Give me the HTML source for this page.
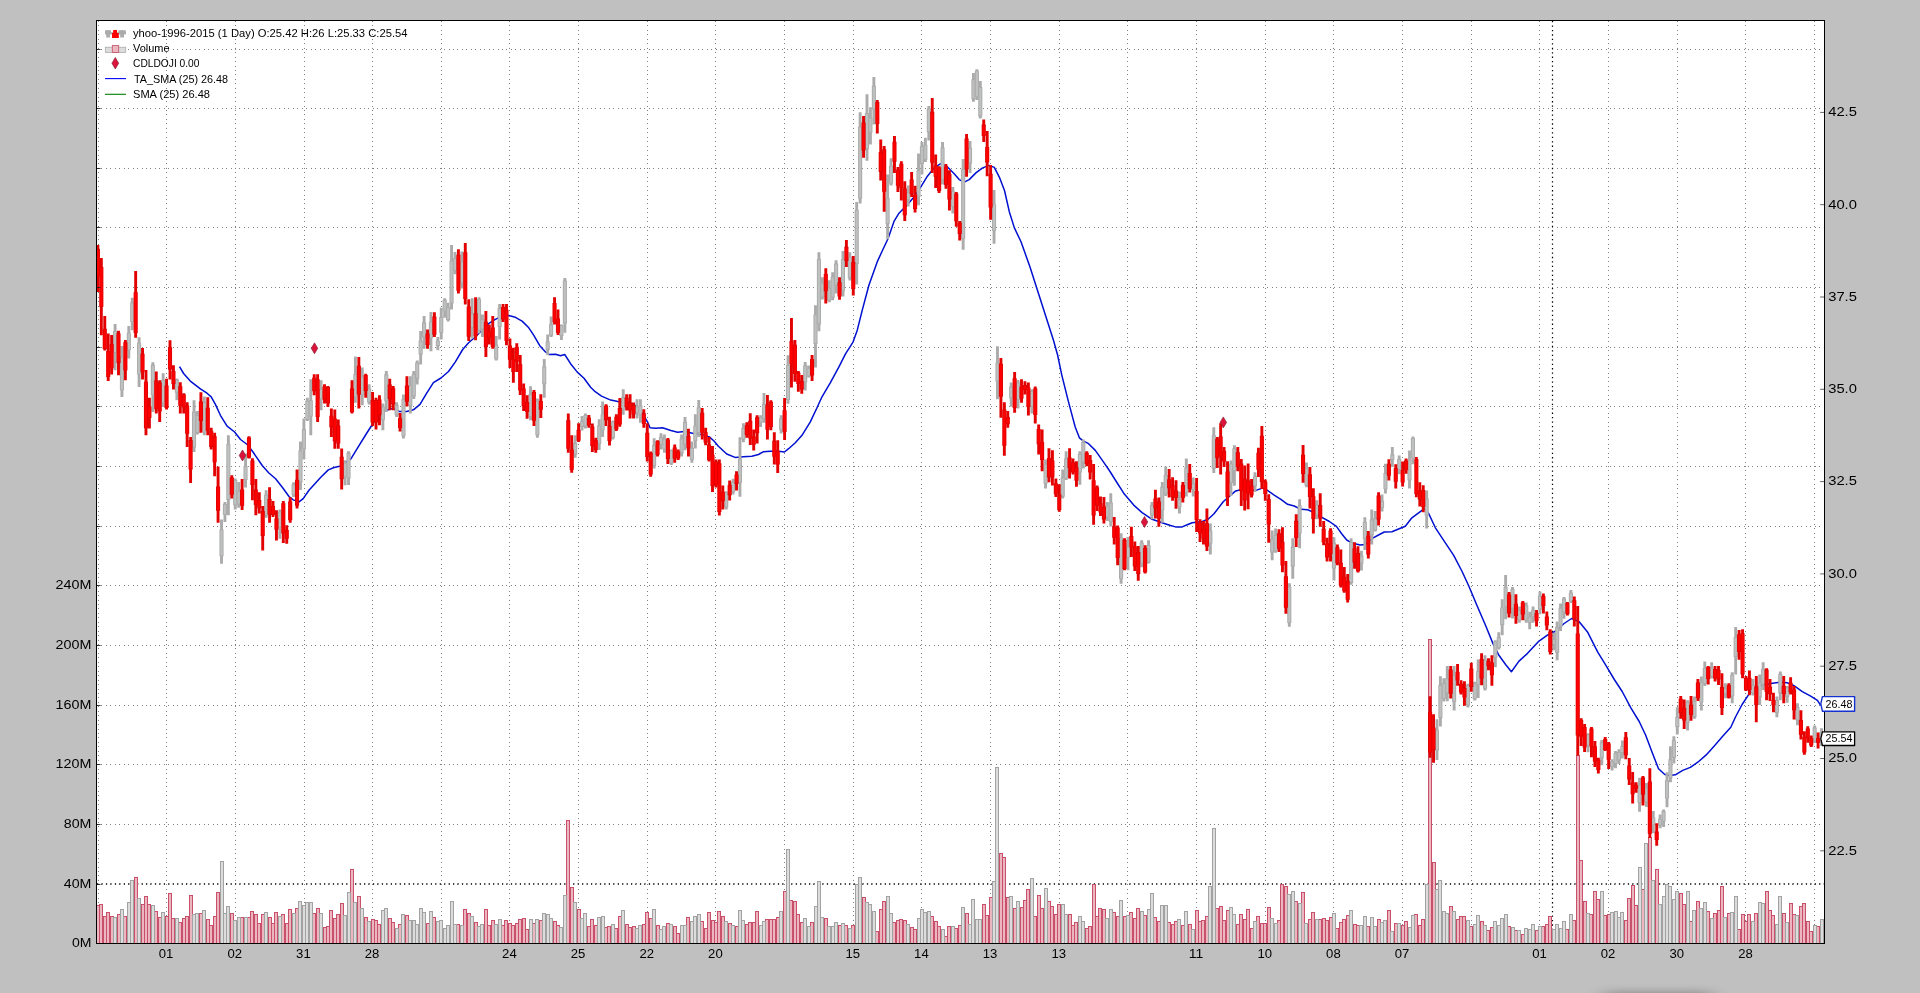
<!DOCTYPE html><html><head><meta charset="utf-8"><title>chart</title><style>
html,body{margin:0;padding:0;background:#c0c0c0;overflow:hidden}
svg{display:block;font-family:"Liberation Sans",sans-serif}
</style></head><body>
<svg width="1920" height="993" viewBox="0 0 1920 993">
<rect x="0" y="0" width="1920" height="993" fill="#c0c0c0"/>
<defs><radialGradient id="sh" cx="0.5" cy="1" r="1" gradientTransform="translate(0,0)"><stop offset="0" stop-color="#9c9c9c"/><stop offset="1" stop-color="#c0c0c0"/></radialGradient>
<filter id="bl" x="-50%" y="-300%" width="200%" height="700%"><feGaussianBlur stdDeviation="10 4.5"/></filter>
<clipPath id="cp"><rect x="97" y="21" width="1727" height="922"/></clipPath></defs>
<rect x="1604" y="992" width="108" height="12" fill="#000" opacity="0.27" filter="url(#bl)"/>
<rect x="97" y="21" width="1727" height="922" fill="#fff"/>
<path d="M98.5 21V943 M166.5 21V943 M235.5 21V943 M304.5 21V943 M372.5 21V943 M441.5 21V943 M509.5 21V943 M578.5 21V943 M647.5 21V943 M715.5 21V943 M784.5 21V943 M853.5 21V943 M921.5 21V943 M990.5 21V943 M1059.5 21V943 M1127.5 21V943 M1196.5 21V943 M1265.5 21V943 M1333.5 21V943 M1402.5 21V943 M1471.5 21V943 M1539.5 21V943 M1608.5 21V943 M1677.5 21V943 M1745.5 21V943 M1814.5 21V943 M97 884.5H1822 M97 824.5H1822 M97 764.5H1822 M97 705.5H1822 M97 645.5H1822 M97 585.5H1822 M97 526.5H1822 M97 466.5H1822 M97 406.5H1822 M97 347.5H1822 M97 287.5H1822 M97 227.5H1822 M97 168.5H1822 M97 108.5H1822 M97 49.5H1822" stroke="#808080" stroke-width="1" stroke-dasharray="1 3.45" fill="none" shape-rendering="crispEdges"/>
<path d="M1552.5 21V943M97 883.8H1824" stroke="#000" stroke-width="1.25" stroke-dasharray="1.3 3.15" fill="none"/>
<g clip-path="url(#cp)">
<path d="M96.40 943.5V905.0H99.40V943.5M99.83 943.5V904.2H102.83V943.5M103.27 943.5V916.3H106.27V943.5M106.70 943.5V912.2H109.70V943.5M110.13 943.5V916.3H113.13V943.5M117.00 943.5V914.2H120.00V943.5M123.87 943.5V916.2H126.87V943.5M134.17 943.5V877.2H137.17V943.5M141.04 943.5V904.2H144.04V943.5M144.47 943.5V896.2H147.47V943.5M147.90 943.5V904.2H150.90V943.5M154.77 943.5V911.2H157.77V943.5M158.20 943.5V917.2H161.20V943.5M165.07 943.5V916.2H168.07V943.5M168.50 943.5V893.2H171.50V943.5M171.94 943.5V918.2H174.94V943.5M178.80 943.5V922.2H181.80V943.5M182.24 943.5V918.3H185.24V943.5M185.67 943.5V916.3H188.67V943.5M189.10 943.5V895.2H192.10V943.5M199.41 943.5V913.2H202.41V943.5M206.27 943.5V919.3H209.27V943.5M209.71 943.5V925.3H212.71V943.5M213.14 943.5V916.2H216.14V943.5M216.57 943.5V892.2H219.57V943.5M230.31 943.5V913.2H233.31V943.5M240.61 943.5V917.2H243.61V943.5M247.47 943.5V917.2H250.47V943.5M250.91 943.5V911.2H253.91V943.5M254.34 943.5V914.2H257.34V943.5M257.77 943.5V923.3H260.77V943.5M261.21 943.5V914.2H264.21V943.5M268.08 943.5V917.2H271.08V943.5M271.51 943.5V923.3H274.51V943.5M274.94 943.5V912.2H277.94V943.5M281.81 943.5V914.2H284.81V943.5M285.24 943.5V923.3H288.24V943.5M288.68 943.5V909.2H291.68V943.5M295.54 943.5V908.2H298.54V943.5M312.71 943.5V913.2H315.71V943.5M316.14 943.5V908.2H319.14V943.5M323.01 943.5V927.3H326.01V943.5M326.44 943.5V926.3H329.44V943.5M329.88 943.5V910.2H332.88V943.5M333.31 943.5V918.3H336.31V943.5M336.75 943.5V914.2H339.75V943.5M340.18 943.5V903.2H343.18V943.5M350.48 943.5V869.2H353.48V943.5M357.35 943.5V896.2H360.35V943.5M364.21 943.5V917.2H367.21V943.5M371.08 943.5V919.3H374.08V943.5M374.51 943.5V920.3H377.51V943.5M377.95 943.5V924.3H380.95V943.5M388.25 943.5V918.3H391.25V943.5M391.68 943.5V922.2H394.68V943.5M398.55 943.5V924.3H401.55V943.5M405.41 943.5V915.2H408.41V943.5M426.02 943.5V923.3H429.02V943.5M432.88 943.5V917.2H435.88V943.5M456.92 943.5V924.3H459.92V943.5M463.78 943.5V909.2H466.78V943.5M467.22 943.5V913.2H470.22V943.5M474.09 943.5V922.2H477.09V943.5M484.39 943.5V909.2H487.39V943.5M487.82 943.5V925.3H490.82V943.5M491.25 943.5V920.3H494.25V943.5M501.55 943.5V925.3H504.55V943.5M504.99 943.5V920.3H507.99V943.5M508.42 943.5V923.3H511.42V943.5M511.85 943.5V925.3H514.85V943.5M515.29 943.5V923.3H518.29V943.5M518.72 943.5V919.3H521.72V943.5M522.15 943.5V918.3H525.15V943.5M525.59 943.5V929.3H528.59V943.5M532.45 943.5V923.3H535.45V943.5M539.32 943.5V920.3H542.32V943.5M553.06 943.5V921.3H556.06V943.5M556.49 943.5V925.3H559.49V943.5M566.79 943.5V820.2H569.79V943.5M570.22 943.5V887.2H573.22V943.5M577.09 943.5V909.2H580.09V943.5M587.39 943.5V926.3H590.39V943.5M590.82 943.5V919.3H593.82V943.5M594.26 943.5V925.3H597.26V943.5M604.56 943.5V927.3H607.56V943.5M607.99 943.5V926.3H610.99V943.5M614.86 943.5V928.3H617.86V943.5M618.29 943.5V916.2H621.29V943.5M625.16 943.5V924.3H628.16V943.5M628.59 943.5V927.3H631.59V943.5M632.03 943.5V926.3H635.03V943.5M642.33 943.5V924.3H645.33V943.5M645.76 943.5V912.2H648.76V943.5M649.19 943.5V918.3H652.19V943.5M656.06 943.5V925.3H659.06V943.5M666.36 943.5V923.3H669.36V943.5M673.23 943.5V926.3H676.23V943.5M676.66 943.5V933.3H679.66V943.5M686.96 943.5V917.2H689.96V943.5M700.70 943.5V921.3H703.70V943.5M704.13 943.5V928.3H707.13V943.5M707.56 943.5V912.2H710.56V943.5M711.00 943.5V920.3H714.00V943.5M714.43 943.5V922.2H717.43V943.5M717.86 943.5V911.2H720.86V943.5M721.30 943.5V916.2H724.30V943.5M728.16 943.5V923.3H731.16V943.5M735.03 943.5V926.3H738.03V943.5M745.33 943.5V924.3H748.33V943.5M748.76 943.5V922.2H751.76V943.5M752.20 943.5V922.2H755.20V943.5M755.63 943.5V911.2H758.63V943.5M765.93 943.5V919.3H768.93V943.5M769.37 943.5V919.3H772.37V943.5M772.80 943.5V919.3H775.80V943.5M776.23 943.5V917.2H779.23V943.5M783.10 943.5V891.2H786.10V943.5M789.97 943.5V900.2H792.97V943.5M793.40 943.5V901.2H796.40V943.5M796.83 943.5V914.2H799.83V943.5M800.27 943.5V922.2H803.27V943.5M810.57 943.5V922.2H813.57V943.5M824.30 943.5V918.3H827.30V943.5M838.04 943.5V925.3H841.04V943.5M844.90 943.5V925.3H847.90V943.5M851.77 943.5V925.3H854.77V943.5M862.07 943.5V897.2H865.07V943.5M875.80 943.5V931.3H878.80V943.5M879.24 943.5V909.2H882.24V943.5M882.67 943.5V901.2H885.67V943.5M892.97 943.5V922.2H895.97V943.5M896.41 943.5V920.3H899.41V943.5M899.84 943.5V919.3H902.84V943.5M903.27 943.5V920.3H906.27V943.5M910.14 943.5V927.3H913.14V943.5M913.57 943.5V929.3H916.57V943.5M930.74 943.5V916.2H933.74V943.5M934.17 943.5V921.3H937.17V943.5M937.61 943.5V926.3H940.61V943.5M944.47 943.5V936.3H947.47V943.5M947.91 943.5V926.3H950.91V943.5M954.77 943.5V928.3H957.77V943.5M958.21 943.5V925.3H961.21V943.5M965.08 943.5V913.2H968.08V943.5M982.24 943.5V904.2H985.24V943.5M985.68 943.5V915.2H988.68V943.5M989.11 943.5V897.2H992.11V943.5M999.41 943.5V853.2H1002.41V943.5M1002.84 943.5V857.2H1005.84V943.5M1006.28 943.5V897.2H1009.28V943.5M1013.14 943.5V908.2H1016.14V943.5M1020.01 943.5V907.2H1023.01V943.5M1023.44 943.5V900.2H1026.44V943.5M1026.88 943.5V889.2H1029.88V943.5M1033.75 943.5V916.2H1036.75V943.5M1037.18 943.5V895.2H1040.18V943.5M1040.61 943.5V908.2H1043.61V943.5M1047.48 943.5V901.2H1050.48V943.5M1050.91 943.5V906.2H1053.91V943.5M1054.35 943.5V914.2H1057.35V943.5M1057.78 943.5V904.2H1060.78V943.5M1068.08 943.5V914.2H1071.08V943.5M1071.51 943.5V925.3H1074.51V943.5M1074.95 943.5V922.2H1077.95V943.5M1085.25 943.5V928.3H1088.25V943.5M1088.68 943.5V926.3H1091.68V943.5M1092.12 943.5V884.2H1095.12V943.5M1095.55 943.5V916.2H1098.55V943.5M1098.98 943.5V908.2H1101.98V943.5M1102.42 943.5V909.2H1105.42V943.5M1112.72 943.5V912.2H1115.72V943.5M1116.15 943.5V916.2H1119.15V943.5M1123.02 943.5V916.2H1126.02V943.5M1129.88 943.5V912.2H1132.88V943.5M1133.32 943.5V918.3H1136.32V943.5M1136.75 943.5V908.2H1139.75V943.5M1143.62 943.5V915.2H1146.62V943.5M1153.92 943.5V917.2H1156.92V943.5M1157.35 943.5V921.3H1160.35V943.5M1167.65 943.5V922.2H1170.65V943.5M1171.09 943.5V924.3H1174.09V943.5M1174.52 943.5V921.3H1177.52V943.5M1181.39 943.5V925.3H1184.39V943.5M1188.25 943.5V924.3H1191.25V943.5M1195.12 943.5V910.2H1198.12V943.5M1198.55 943.5V921.3H1201.55V943.5M1201.99 943.5V920.3H1204.99V943.5M1205.42 943.5V916.2H1208.42V943.5M1215.72 943.5V908.2H1218.72V943.5M1219.15 943.5V906.2H1222.15V943.5M1222.59 943.5V920.3H1225.59V943.5M1226.02 943.5V910.2H1229.02V943.5M1236.32 943.5V924.3H1239.32V943.5M1239.76 943.5V914.2H1242.76V943.5M1243.19 943.5V919.3H1246.19V943.5M1246.62 943.5V909.2H1249.62V943.5M1250.06 943.5V928.3H1253.06V943.5M1256.92 943.5V916.2H1259.92V943.5M1260.36 943.5V923.3H1263.36V943.5M1263.79 943.5V923.3H1266.79V943.5M1267.22 943.5V907.2H1270.22V943.5M1277.52 943.5V920.3H1280.52V943.5M1280.96 943.5V884.2H1283.96V943.5M1284.39 943.5V886.2H1287.39V943.5M1294.69 943.5V901.2H1297.69V943.5M1301.56 943.5V892.2H1304.56V943.5M1308.43 943.5V919.3H1311.43V943.5M1311.86 943.5V912.2H1314.86V943.5M1318.73 943.5V919.3H1321.73V943.5M1322.16 943.5V918.3H1325.16V943.5M1325.59 943.5V920.3H1328.59V943.5M1329.03 943.5V917.2H1332.03V943.5M1335.89 943.5V928.3H1338.89V943.5M1339.33 943.5V922.2H1342.33V943.5M1342.76 943.5V919.3H1345.76V943.5M1346.19 943.5V915.2H1349.19V943.5M1353.06 943.5V924.3H1356.06V943.5M1356.49 943.5V925.3H1359.49V943.5M1366.80 943.5V926.3H1369.80V943.5M1377.10 943.5V919.3H1380.10V943.5M1387.40 943.5V910.2H1390.40V943.5M1394.26 943.5V923.3H1397.26V943.5M1401.13 943.5V925.3H1404.13V943.5M1404.56 943.5V921.3H1407.56V943.5M1414.86 943.5V914.2H1417.86V943.5M1418.30 943.5V925.3H1421.30V943.5M1421.73 943.5V919.3H1424.73V943.5M1428.60 943.5V639.4H1431.60V943.5M1432.03 943.5V862.2H1435.03V943.5M1449.20 943.5V906.2H1452.20V943.5M1456.07 943.5V919.3H1459.07V943.5M1459.50 943.5V916.2H1462.50V943.5M1462.93 943.5V916.2H1465.93V943.5M1469.80 943.5V926.3H1472.80V943.5M1480.10 943.5V921.3H1483.10V943.5M1486.97 943.5V930.3H1489.97V943.5M1490.40 943.5V927.3H1493.40V943.5M1507.57 943.5V926.3H1510.57V943.5M1514.44 943.5V930.3H1517.44V943.5M1521.30 943.5V934.3H1524.30V943.5M1535.04 943.5V930.3H1538.04V943.5M1541.90 943.5V926.3H1544.90V943.5M1545.34 943.5V924.3H1548.34V943.5M1548.77 943.5V916.2H1551.77V943.5M1565.94 943.5V929.3H1568.94V943.5M1572.81 943.5V920.3H1575.81V943.5M1576.24 943.5V755.6H1579.24V943.5M1579.67 943.5V860.2H1582.67V943.5M1583.11 943.5V901.2H1586.11V943.5M1589.97 943.5V914.2H1592.97V943.5M1593.41 943.5V891.2H1596.41V943.5M1596.84 943.5V899.2H1599.84V943.5M1603.71 943.5V915.2H1606.71V943.5M1607.14 943.5V914.2H1610.14V943.5M1624.31 943.5V920.3H1627.31V943.5M1627.74 943.5V898.2H1630.74V943.5M1631.17 943.5V885.2H1634.17V943.5M1634.61 943.5V905.2H1637.61V943.5M1641.48 943.5V889.2H1644.48V943.5M1648.34 943.5V837.9H1651.34V943.5M1655.21 943.5V869.2H1658.21V943.5M1679.24 943.5V893.2H1682.24V943.5M1682.68 943.5V904.2H1685.68V943.5M1689.54 943.5V921.3H1692.54V943.5M1696.41 943.5V901.2H1699.41V943.5M1706.71 943.5V911.2H1709.71V943.5M1713.58 943.5V913.2H1716.58V943.5M1717.01 943.5V910.2H1720.01V943.5M1720.45 943.5V886.2H1723.45V943.5M1727.31 943.5V913.2H1730.31V943.5M1737.61 943.5V929.3H1740.61V943.5M1741.05 943.5V914.2H1744.05V943.5M1744.48 943.5V921.3H1747.48V943.5M1747.91 943.5V914.2H1750.91V943.5M1754.78 943.5V913.2H1757.78V943.5M1765.08 943.5V891.2H1768.08V943.5M1768.51 943.5V910.2H1771.51V943.5M1771.95 943.5V915.2H1774.95V943.5M1782.25 943.5V913.2H1785.25V943.5M1789.12 943.5V903.2H1792.12V943.5M1792.55 943.5V914.2H1795.55V943.5M1799.42 943.5V906.2H1802.42V943.5M1802.85 943.5V903.2H1805.85V943.5M1806.28 943.5V921.3H1809.28V943.5M1809.72 943.5V931.3H1812.72V943.5M1816.58 943.5V926.3H1819.58V943.5" fill="#ecb6c1" stroke="#c8506a" stroke-width="1" shape-rendering="crispEdges"/>
<path d="M113.57 943.5V917.2H116.57V943.5M120.43 943.5V909.2H123.43V943.5M127.30 943.5V902.2H130.30V943.5M130.74 943.5V880.0H133.74V943.5M137.60 943.5V898.3H140.60V943.5M151.34 943.5V905.3H154.34V943.5M161.64 943.5V912.2H164.64V943.5M175.37 943.5V918.2H178.37V943.5M192.54 943.5V914.2H195.54V943.5M195.97 943.5V913.3H198.97V943.5M202.84 943.5V910.2H205.84V943.5M220.01 943.5V861.2H223.01V943.5M223.44 943.5V913.3H226.44V943.5M226.87 943.5V906.2H229.87V943.5M233.74 943.5V920.2H236.74V943.5M237.17 943.5V917.2H240.17V943.5M244.04 943.5V917.2H247.04V943.5M264.64 943.5V912.2H267.64V943.5M278.38 943.5V916.2H281.38V943.5M292.11 943.5V913.2H295.11V943.5M298.98 943.5V901.2H301.98V943.5M302.41 943.5V905.0H305.41V943.5M305.84 943.5V902.2H308.84V943.5M309.28 943.5V902.2H312.28V943.5M319.58 943.5V913.2H322.58V943.5M343.61 943.5V915.2H346.61V943.5M347.05 943.5V892.2H350.05V943.5M353.91 943.5V902.2H356.91V943.5M360.78 943.5V908.2H363.78V943.5M367.65 943.5V921.3H370.65V943.5M381.38 943.5V910.2H384.38V943.5M384.81 943.5V908.2H387.81V943.5M395.11 943.5V928.3H398.11V943.5M401.98 943.5V914.2H404.98V943.5M408.85 943.5V920.3H411.85V943.5M412.28 943.5V920.3H415.28V943.5M415.72 943.5V924.3H418.72V943.5M419.15 943.5V908.2H422.15V943.5M422.58 943.5V912.2H425.58V943.5M429.45 943.5V911.2H432.45V943.5M436.32 943.5V921.3H439.32V943.5M439.75 943.5V920.3H442.75V943.5M443.18 943.5V928.3H446.18V943.5M446.62 943.5V925.3H449.62V943.5M450.05 943.5V901.2H453.05V943.5M453.48 943.5V924.3H456.48V943.5M460.35 943.5V925.3H463.35V943.5M470.65 943.5V916.2H473.65V943.5M477.52 943.5V926.3H480.52V943.5M480.95 943.5V924.3H483.95V943.5M494.69 943.5V924.3H497.69V943.5M498.12 943.5V919.3H501.12V943.5M529.02 943.5V919.3H532.02V943.5M535.89 943.5V919.3H538.89V943.5M542.75 943.5V913.2H545.75V943.5M546.19 943.5V914.2H549.19V943.5M549.62 943.5V918.3H552.62V943.5M559.92 943.5V927.3H562.92V943.5M563.36 943.5V895.2H566.36V943.5M573.66 943.5V902.2H576.66V943.5M580.52 943.5V918.3H583.52V943.5M583.96 943.5V913.2H586.96V943.5M597.69 943.5V917.2H600.69V943.5M601.12 943.5V916.2H604.12V943.5M611.42 943.5V924.3H614.42V943.5M621.73 943.5V910.2H624.73V943.5M635.46 943.5V928.3H638.46V943.5M638.89 943.5V925.3H641.89V943.5M652.63 943.5V909.2H655.63V943.5M659.49 943.5V929.3H662.49V943.5M662.93 943.5V926.3H665.93V943.5M669.79 943.5V924.3H672.79V943.5M680.10 943.5V925.3H683.10V943.5M683.53 943.5V925.3H686.53V943.5M690.40 943.5V921.3H693.40V943.5M693.83 943.5V916.2H696.83V943.5M697.26 943.5V914.2H700.26V943.5M724.73 943.5V921.3H727.73V943.5M731.60 943.5V925.3H734.60V943.5M738.46 943.5V910.2H741.46V943.5M741.90 943.5V920.3H744.90V943.5M759.07 943.5V925.3H762.07V943.5M762.50 943.5V921.3H765.50V943.5M779.67 943.5V911.2H782.67V943.5M786.53 943.5V849.2H789.53V943.5M803.70 943.5V918.3H806.70V943.5M807.13 943.5V926.3H810.13V943.5M814.00 943.5V906.2H817.00V943.5M817.43 943.5V881.2H820.43V943.5M820.87 943.5V917.2H823.87V943.5M827.74 943.5V926.3H830.74V943.5M831.17 943.5V926.3H834.17V943.5M834.60 943.5V922.2H837.60V943.5M841.47 943.5V923.3H844.47V943.5M848.34 943.5V928.3H851.34V943.5M855.20 943.5V884.2H858.20V943.5M858.64 943.5V877.2H861.64V943.5M865.50 943.5V902.2H868.50V943.5M868.94 943.5V904.2H871.94V943.5M872.37 943.5V911.2H875.37V943.5M886.11 943.5V896.2H889.11V943.5M889.54 943.5V913.2H892.54V943.5M906.71 943.5V924.3H909.71V943.5M917.01 943.5V918.3H920.01V943.5M920.44 943.5V909.2H923.44V943.5M923.87 943.5V912.2H926.87V943.5M927.31 943.5V911.2H930.31V943.5M941.04 943.5V929.3H944.04V943.5M951.34 943.5V926.3H954.34V943.5M961.64 943.5V907.2H964.64V943.5M968.51 943.5V924.3H971.51V943.5M971.94 943.5V899.2H974.94V943.5M975.38 943.5V919.3H978.38V943.5M978.81 943.5V919.3H981.81V943.5M992.54 943.5V881.2H995.54V943.5M995.98 943.5V767.2H998.98V943.5M1009.71 943.5V896.2H1012.71V943.5M1016.58 943.5V901.2H1019.58V943.5M1030.31 943.5V878.2H1033.31V943.5M1044.05 943.5V888.2H1047.05V943.5M1061.21 943.5V904.2H1064.21V943.5M1064.65 943.5V914.2H1067.65V943.5M1078.38 943.5V916.2H1081.38V943.5M1081.81 943.5V921.3H1084.81V943.5M1105.85 943.5V918.3H1108.85V943.5M1109.28 943.5V909.2H1112.28V943.5M1119.58 943.5V900.2H1122.58V943.5M1126.45 943.5V915.2H1129.45V943.5M1140.18 943.5V911.2H1143.18V943.5M1147.05 943.5V909.2H1150.05V943.5M1150.48 943.5V893.2H1153.48V943.5M1160.79 943.5V905.2H1163.79V943.5M1164.22 943.5V905.2H1167.22V943.5M1177.95 943.5V919.3H1180.95V943.5M1184.82 943.5V911.2H1187.82V943.5M1191.69 943.5V929.3H1194.69V943.5M1208.85 943.5V886.2H1211.85V943.5M1212.29 943.5V828.3H1215.29V943.5M1229.46 943.5V907.2H1232.46V943.5M1232.89 943.5V914.2H1235.89V943.5M1253.49 943.5V921.3H1256.49V943.5M1270.66 943.5V918.3H1273.66V943.5M1274.09 943.5V923.3H1277.09V943.5M1287.82 943.5V894.2H1290.82V943.5M1291.26 943.5V891.2H1294.26V943.5M1298.12 943.5V903.2H1301.12V943.5M1304.99 943.5V923.3H1307.99V943.5M1315.29 943.5V919.3H1318.29V943.5M1332.46 943.5V913.2H1335.46V943.5M1349.63 943.5V910.2H1352.63V943.5M1359.93 943.5V925.3H1362.93V943.5M1363.36 943.5V916.2H1366.36V943.5M1370.23 943.5V917.2H1373.23V943.5M1373.66 943.5V926.3H1376.66V943.5M1380.53 943.5V922.2H1383.53V943.5M1383.96 943.5V920.3H1386.96V943.5M1390.83 943.5V931.3H1393.83V943.5M1397.70 943.5V923.3H1400.70V943.5M1408.00 943.5V927.3H1411.00V943.5M1411.43 943.5V915.2H1414.43V943.5M1425.16 943.5V884.2H1428.16V943.5M1435.47 943.5V889.2H1438.47V943.5M1438.90 943.5V880.2H1441.90V943.5M1442.33 943.5V911.2H1445.33V943.5M1445.77 943.5V913.2H1448.77V943.5M1452.63 943.5V911.2H1455.63V943.5M1466.37 943.5V920.3H1469.37V943.5M1473.23 943.5V924.3H1476.23V943.5M1476.67 943.5V915.2H1479.67V943.5M1483.53 943.5V925.3H1486.53V943.5M1493.83 943.5V921.3H1496.83V943.5M1497.27 943.5V925.3H1500.27V943.5M1500.70 943.5V918.3H1503.70V943.5M1504.13 943.5V914.2H1507.13V943.5M1511.00 943.5V927.3H1514.00V943.5M1517.87 943.5V930.3H1520.87V943.5M1524.74 943.5V928.3H1527.74V943.5M1528.17 943.5V929.3H1531.17V943.5M1531.60 943.5V924.3H1534.60V943.5M1538.47 943.5V926.3H1541.47V943.5M1552.20 943.5V929.3H1555.20V943.5M1555.64 943.5V924.3H1558.64V943.5M1559.07 943.5V928.3H1562.07V943.5M1562.50 943.5V921.3H1565.50V943.5M1569.37 943.5V914.2H1572.37V943.5M1586.54 943.5V913.2H1589.54V943.5M1600.27 943.5V891.2H1603.27V943.5M1610.57 943.5V912.2H1613.57V943.5M1614.01 943.5V911.2H1617.01V943.5M1617.44 943.5V917.2H1620.44V943.5M1620.87 943.5V912.2H1623.87V943.5M1638.04 943.5V867.2H1641.04V943.5M1644.91 943.5V843.4H1647.91V943.5M1651.78 943.5V880.2H1654.78V943.5M1658.64 943.5V904.2H1661.64V943.5M1662.08 943.5V896.2H1665.08V943.5M1665.51 943.5V884.2H1668.51V943.5M1668.94 943.5V886.2H1671.94V943.5M1672.38 943.5V899.2H1675.38V943.5M1675.81 943.5V891.2H1678.81V943.5M1686.11 943.5V891.2H1689.11V943.5M1692.98 943.5V910.2H1695.98V943.5M1699.84 943.5V908.2H1702.84V943.5M1703.28 943.5V902.2H1706.28V943.5M1710.14 943.5V918.3H1713.14V943.5M1723.88 943.5V917.2H1726.88V943.5M1730.75 943.5V912.2H1733.75V943.5M1734.18 943.5V896.2H1737.18V943.5M1751.35 943.5V921.3H1754.35V943.5M1758.21 943.5V902.2H1761.21V943.5M1761.65 943.5V903.2H1764.65V943.5M1775.38 943.5V924.3H1778.38V943.5M1778.82 943.5V896.2H1781.82V943.5M1785.68 943.5V922.2H1788.68V943.5M1795.98 943.5V915.2H1798.98V943.5M1813.15 943.5V925.3H1816.15V943.5M1820.02 943.5V919.3H1823.02V943.5" fill="#dcdcdc" stroke="#a2a2a2" stroke-width="1" shape-rendering="crispEdges"/>
<path d="M179.5 366.6 L183.6 373.5 L190.3 381.1 L200.4 388.9 L207.0 393.2 L211.2 396.9 L215.4 404.4 L220.4 415.3 L227.1 426.2 L234.6 432.0 L240.5 439.5 L247.2 444.5 L253.0 452.0 L262.2 465.5 L268.9 473.0 L275.6 478.8 L282.3 487.2 L289.0 496.5 L293.2 499.9 L299.0 501.9 L303.2 498.6 L309.0 490.2 L315.8 482.7 L320.8 477.2 L328.3 469.9 L334.1 467.5 L340.8 465.9 L350.9 458.8 L357.6 447.9 L365.9 434.5 L372.6 424.0 L379.3 415.3 L386.0 410.3 L392.7 408.6 L399.4 411.4 L406.7 411.5 L413.4 409.8 L420.0 404.3 L426.4 393.6 L433.4 382.7 L441.0 378.0 L448.5 371.5 L455.2 362.1 L462.7 349.5 L468.6 342.8 L475.3 337.0 L481.9 330.3 L488.6 323.6 L495.3 319.4 L502.0 316.1 L508.7 315.6 L515.4 317.3 L522.1 321.1 L528.8 327.8 L533.8 335.3 L539.6 345.4 L545.5 352.0 L548.8 354.5 L555.5 354.2 L560.5 355.7 L564.7 354.5 L570.6 363.7 L577.3 372.1 L584.0 378.2 L590.6 387.2 L595.2 391.7 L601.5 396.1 L610.7 400.1 L617.8 401.5 L625.8 401.8 L634.0 404.3 L640.8 411.0 L647.5 421.8 L650.0 427.7 L655.9 428.2 L662.5 427.7 L670.9 430.5 L677.6 432.2 L684.3 431.5 L692.6 433.2 L701.0 434.4 L709.4 436.9 L714.0 441.0 L718.4 446.2 L726.7 454.0 L735.1 457.4 L743.4 456.7 L751.8 456.2 L758.5 454.5 L763.5 451.7 L770.2 451.3 L778.6 451.3 L784.4 452.0 L788.6 448.7 L795.3 442.8 L802.0 435.3 L810.3 421.9 L817.0 407.7 L822.0 396.8 L830.4 382.6 L838.8 367.2 L845.5 353.8 L853.0 342.1 L857.2 330.4 L862.2 310.4 L868.9 285.3 L877.2 261.9 L882.2 251.0 L888.1 238.5 L894.0 221.4 L899.0 213.2 L907.3 204.7 L914.0 197.1 L920.7 187.1 L927.4 176.2 L934.1 167.9 L940.8 163.7 L947.5 167.0 L954.2 173.7 L959.2 179.6 L964.2 182.1 L969.2 179.6 L975.9 172.9 L982.6 167.9 L989.3 165.4 L994.3 167.4 L999.3 177.1 L1004.5 190.5 L1009.3 211.7 L1014.3 227.6 L1021.0 241.8 L1030.0 266.9 L1053.4 340.0 L1057.6 355.0 L1061.8 375.1 L1068.5 401.9 L1075.2 427.0 L1079.4 437.8 L1083.5 441.2 L1088.6 443.7 L1095.3 450.4 L1103.6 462.1 L1110.0 471.5 L1115.3 480.0 L1123.7 493.2 L1133.7 505.1 L1142.1 512.6 L1152.1 519.3 L1162.1 522.7 L1170.5 525.5 L1175.5 526.9 L1182.2 526.9 L1187.2 524.8 L1192.2 522.7 L1202.3 521.5 L1208.1 519.3 L1214.0 513.8 L1223.2 501.8 L1230.7 495.1 L1235.7 490.9 L1240.7 489.7 L1248.0 489.5 L1255.8 490.4 L1262.5 488.1 L1267.5 490.4 L1274.2 495.1 L1280.9 499.3 L1287.6 504.3 L1294.2 506.0 L1300.9 509.3 L1307.6 509.8 L1314.3 512.6 L1321.0 516.8 L1329.4 521.5 L1336.4 526.4 L1341.7 533.7 L1346.7 540.0 L1351.7 542.9 L1360.1 544.9 L1365.1 544.5 L1371.8 538.7 L1378.5 535.0 L1384.3 532.0 L1391.9 531.7 L1398.6 529.0 L1405.3 526.2 L1411.9 517.8 L1418.6 512.8 L1424.5 508.6 L1428.7 513.6 L1435.4 527.8 L1443.7 540.4 L1453.7 555.4 L1462.1 571.5 L1468.8 586.0 L1477.2 606.0 L1485.5 625.2 L1493.0 643.6 L1498.9 655.3 L1505.6 664.5 L1511.4 671.7 L1519.0 661.1 L1527.3 653.6 L1539.0 641.1 L1547.4 635.2 L1555.8 631.0 L1564.1 623.5 L1571.6 618.5 L1579.2 621.8 L1587.5 631.9 L1597.6 651.9 L1605.9 665.3 L1614.3 679.5 L1622.2 691.5 L1631.0 708.2 L1639.2 721.5 L1645.6 735.0 L1651.8 751.5 L1658.5 768.7 L1664.8 774.5 L1670.0 775.5 L1675.3 774.8 L1682.7 770.4 L1690.3 767.4 L1697.8 762.2 L1706.2 754.9 L1714.5 745.7 L1722.9 736.0 L1730.8 727.3 L1735.5 717.0 L1742.1 704.5 L1748.8 694.4 L1755.0 688.5 L1762.0 685.3 L1770.6 683.6 L1780.6 682.2 L1787.3 682.7 L1794.0 685.6 L1802.3 691.6 L1810.7 696.1 L1817.4 700.3 L1820.7 705.3" stroke="#0010d0" stroke-width="1.5" fill="none" stroke-linejoin="round"/>
<path d="M115.07 323.9V370.3M121.93 346.0V396.9M128.80 326.1V358.6M132.24 297.7V330.3M139.10 337.3V387.0M152.84 362.3V411.9M163.14 373.2V406.9M176.87 378.5V400.2M194.04 400.2V452.0M197.47 411.1V434.5M204.34 396.5V435.3M221.51 519.5V563.8M224.94 501.9V522.0M228.37 435.3V515.3M235.24 478.6V509.4M238.67 482.0V507.8M245.54 453.6V487.4M266.14 490.2V517.8M279.88 509.4V538.7M293.61 482.2V496.9M300.48 441.5V489.9M303.91 418.6V459.4M307.34 397.7V421.1M310.78 379.3V435.3M321.08 380.2V410.2M345.11 460.3V485.3M348.55 451.2V484.9M355.41 356.4V402.7M362.28 367.6V405.2M369.15 384.3V404.4M382.88 403.6V430.3M386.31 371.0V411.9M396.61 402.2V416.9M403.48 394.4V438.6M410.35 376.2V413.5M413.78 371.0V399.0M417.22 360.4V384.4M420.65 331.1V364.5M424.08 316.1V348.7M430.95 311.9V351.2M437.82 337.0V350.3M441.25 307.7V339.5M444.68 298.2V317.7M448.12 302.7V321.6M451.55 245.0V309.4M454.98 252.0V274.3M461.85 251.4V288.5M472.15 298.2V338.6M479.02 297.2V333.6M482.45 314.4V337.0M496.19 336.1V360.4M499.62 304.0V339.5M530.52 386.2V420.2M537.39 398.4V437.7M544.25 359.0V397.8M547.69 334.5V355.3M551.12 316.6V337.0M561.42 324.4V340.0M564.86 278.1V332.8M575.16 435.2V457.8M582.02 416.0V430.5M585.46 413.5V428.5M599.19 419.3V449.9M602.62 401.4V436.9M612.92 420.5V439.4M623.23 389.2V414.8M636.96 399.3V418.5M640.39 399.3V422.7M654.13 438.2V468.6M660.99 433.2V449.4M664.43 434.4V452.7M671.29 449.4V465.0M681.60 434.4V456.6M685.03 417.1V450.2M691.90 441.5V462.8M695.33 414.3V448.6M698.76 400.1V436.9M726.23 491.3V509.6M733.10 478.7V494.6M739.96 437.3V496.8M743.40 423.2V442.3M760.57 415.2V426.9M764.00 393.1V422.7M781.17 415.2V433.6M788.03 355.2V403.8M805.20 362.1V390.5M808.63 365.4V377.6M815.50 305.3V367.6M818.93 252.2V331.2M822.37 277.2V299.5M829.24 280.2V302.3M832.67 272.2V300.3M836.10 260.2V293.6M842.97 251.0V296.6M849.84 252.2V280.6M856.70 202.1V284.4M860.14 112.2V203.4M867.00 94.3V160.7M870.44 107.2V144.4M873.87 77.1V124.4M887.61 174.5V239.3M891.04 158.3V185.4M908.21 185.4V206.5M918.51 153.6V205.2M921.94 141.9V174.5M925.37 137.7V162.0M928.81 106.0V140.6M942.54 141.9V184.6M952.84 187.1V213.4M963.14 159.0V249.8M970.01 141.1V172.9M973.44 73.1V101.8M976.88 69.2V100.1M980.31 80.9V118.5M994.04 190.1V243.8M997.48 346.3V399.3M1011.21 382.6V406.8M1018.08 380.1V408.5M1031.81 389.3V413.6M1045.55 459.5V488.4M1062.71 469.6V498.4M1066.15 451.2V480.1M1079.88 451.2V484.7M1083.31 439.5V468.4M1107.35 502.0V521.0M1110.78 493.2V526.5M1121.08 533.2V583.7M1127.95 536.9V570.3M1141.68 540.2V567.3M1148.55 540.2V563.6M1151.98 502.1V519.3M1162.29 481.9V522.7M1165.72 466.5V496.0M1179.45 491.5V513.5M1186.32 458.4V496.5M1193.19 477.5V496.5M1210.35 523.5V554.4M1213.79 427.3V472.9M1230.96 460.4V496.1M1234.39 445.3V485.7M1254.99 472.3V491.9M1272.16 530.5V560.3M1275.59 528.5V552.7M1289.32 583.3V626.8M1292.76 538.2V578.7M1299.62 499.2V548.2M1306.49 462.4V487.3M1316.79 500.3V519.3M1333.96 537.3V580.5M1351.13 538.3V584.8M1361.43 550.7V570.4M1364.86 517.3V550.0M1371.73 509.4V544.5M1375.16 511.1V531.6M1382.03 494.4V511.6M1385.46 463.8V493.5M1392.33 447.1V467.1M1399.20 455.4V474.3M1409.50 450.4V488.5M1412.93 436.4V464.3M1426.66 490.5V528.6M1436.97 719.2V759.9M1440.40 676.2V726.4M1443.83 678.3V701.5M1447.27 666.1V701.2M1454.13 666.1V710.4M1467.87 683.7V707.4M1474.73 681.7V700.4M1478.17 659.4V697.9M1485.03 655.3V690.4M1495.33 640.2V667.3M1498.77 632.2V649.4M1502.20 599.3V635.2M1505.63 575.0V619.3M1512.50 587.1V618.5M1519.37 606.4V622.7M1526.24 602.6V622.7M1529.67 611.8V629.3M1533.10 606.4V622.7M1539.97 591.4V614.3M1553.70 632.7V650.2M1557.14 621.5V660.3M1560.57 603.4V631.0M1564.00 597.1V618.8M1570.87 590.1V603.1M1588.04 733.2V752.2M1601.77 740.1V765.2M1612.07 759.3V770.4M1615.51 751.0V768.2M1618.94 749.3V763.9M1622.37 740.4V758.5M1639.54 777.7V811.7M1646.41 783.0V807.0M1653.28 811.1V833.3M1660.14 814.5V828.3M1663.58 809.4V827.0M1667.01 772.2V807.3M1670.44 746.3V782.2M1673.88 736.2V763.6M1677.31 707.3V734.4M1687.61 700.3V730.4M1694.48 696.6V718.7M1701.34 676.5V710.6M1704.78 661.5V686.1M1711.64 662.2V678.5M1725.38 683.2V698.3M1732.25 672.2V703.3M1735.68 627.1V674.4M1752.85 678.9V695.6M1759.71 674.4V705.0M1763.15 662.2V689.9M1776.88 696.6V717.3M1780.32 671.5V700.3M1787.18 686.1V702.8M1797.48 703.3V725.3M1814.65 725.6V743.0M1821.52 728.2V746.1" stroke="#ababab" stroke-width="2.9" fill="none"/>
<path d="M115.07 330.9V352.9M121.93 356.6V390.3M128.80 332.7V350.3M132.24 302.6V322.1M139.10 342.7V374.6M152.84 364.8V395.3M163.14 380.1V403.3M176.87 379.8V392.7M194.04 411.8V447.6M197.47 415.2V432.9M204.34 402.0V432.3M221.51 529.4V556.3M224.94 504.1V514.8M228.37 443.9V500.0M235.24 480.0V505.5M238.67 491.2V504.3M245.54 466.0V479.9M266.14 494.8V515.7M279.88 511.7V527.8M293.61 484.3V495.0M300.48 450.4V482.2M303.91 429.3V449.3M307.34 400.7V419.8M310.78 400.3V416.6M321.08 389.0V399.1M345.11 462.6V477.1M348.55 452.8V478.5M355.41 374.0V397.5M362.28 376.9V395.1M369.15 388.6V402.4M382.88 406.5V420.2M386.31 374.3V401.3M396.61 405.0V414.8M403.48 399.0V436.3M410.35 385.7V406.0M413.78 374.0V396.4M417.22 362.5V378.7M420.65 340.7V354.5M424.08 322.5V337.4M430.95 321.7V338.3M437.82 340.7V345.9M441.25 317.1V332.8M444.68 299.8V311.3M448.12 306.8V319.9M451.55 260.9V303.5M454.98 258.2V270.9M461.85 261.7V283.4M472.15 313.5V327.8M479.02 299.2V330.6M482.45 319.3V329.2M496.19 344.5V359.3M499.62 308.0V327.0M530.52 394.0V416.9M537.39 400.6V435.3M544.25 366.6V384.2M547.69 341.5V349.9M551.12 324.3V335.5M561.42 325.2V335.9M564.86 280.4V323.4M575.16 443.0V454.4M582.02 421.3V426.9M585.46 415.0V426.4M599.19 425.6V444.0M602.62 414.4V430.3M612.92 421.6V437.9M623.23 397.3V409.5M636.96 406.5V413.1M640.39 405.5V415.5M654.13 445.0V465.9M660.99 437.0V444.6M664.43 438.9V449.6M671.29 450.3V463.6M681.60 438.4V453.5M685.03 422.0V444.6M691.90 448.1V459.8M695.33 425.7V441.1M698.76 407.3V432.8M726.23 492.4V507.6M733.10 481.9V492.0M739.96 458.5V482.8M743.40 428.0V439.5M760.57 416.9V422.9M764.00 403.8V419.0M781.17 418.4V430.1M788.03 365.2V400.0M805.20 365.6V382.5M808.63 368.2V376.5M815.50 314.6V344.0M818.93 259.2V324.5M822.37 282.5V297.3M829.24 287.9V300.4M832.67 276.7V297.5M836.10 263.6V285.7M842.97 259.2V291.3M849.84 256.7V278.0M856.70 209.9V263.9M860.14 126.6V198.5M867.00 113.1V149.2M870.44 117.5V132.6M873.87 85.8V109.4M887.61 197.9V224.2M891.04 165.8V183.6M908.21 192.4V199.6M918.51 170.2V197.1M921.94 146.2V163.9M925.37 144.7V159.8M928.81 108.5V132.2M942.54 147.6V179.8M952.84 190.9V206.9M963.14 169.2V238.8M970.01 147.8V163.4M973.44 79.3V99.2M976.88 70.7V97.1M980.31 87.0V116.4M994.04 204.2V230.8M997.48 362.7V381.5M1011.21 386.8V398.5M1018.08 382.7V400.0M1031.81 391.1V407.0M1045.55 463.9V483.8M1062.71 477.2V496.7M1066.15 458.5V478.6M1079.88 453.8V472.4M1083.31 442.0V462.5M1107.35 505.5V517.3M1110.78 502.6V521.8M1121.08 537.4V579.1M1127.95 546.4V557.8M1141.68 542.7V563.6M1148.55 545.2V562.6M1151.98 505.0V515.4M1162.29 486.8V510.6M1165.72 474.9V494.3M1179.45 499.3V507.3M1186.32 467.6V492.3M1193.19 483.3V490.0M1210.35 530.7V543.6M1213.79 435.3V468.7M1230.96 463.7V483.1M1234.39 448.3V470.8M1254.99 476.2V486.2M1272.16 538.9V552.5M1275.59 535.1V551.1M1289.32 586.7V623.1M1292.76 546.8V566.4M1299.62 505.2V533.3M1306.49 467.8V485.4M1316.79 504.7V515.3M1333.96 542.8V568.6M1351.13 541.9V582.9M1361.43 555.6V563.4M1364.86 521.9V538.9M1371.73 519.5V535.2M1375.16 518.3V530.7M1382.03 500.8V508.1M1385.46 473.1V489.3M1392.33 454.5V459.9M1399.20 458.9V470.0M1409.50 459.5V480.5M1412.93 438.0V458.5M1426.66 498.6V515.6M1436.97 729.9V750.5M1440.40 685.0V718.0M1443.83 683.0V699.1M1447.27 678.3V693.3M1454.13 675.2V702.1M1467.87 685.0V705.4M1474.73 683.4V699.1M1478.17 671.2V685.1M1485.03 659.8V688.8M1495.33 641.4V657.8M1498.77 637.2V648.1M1502.20 607.4V625.0M1505.63 586.9V606.8M1512.50 589.0V608.3M1519.37 610.0V620.5M1526.24 605.3V620.5M1529.67 616.5V623.0M1533.10 610.3V617.2M1539.97 595.8V609.5M1553.70 639.1V644.9M1557.14 627.1V652.7M1560.57 607.8V626.4M1564.00 598.5V612.4M1570.87 592.8V601.7M1588.04 734.3V745.4M1601.77 742.3V758.2M1612.07 761.6V766.9M1615.51 753.2V764.0M1618.94 752.1V760.5M1622.37 746.1V752.9M1639.54 784.5V802.8M1646.41 787.9V802.5M1653.28 817.6V825.5M1660.14 818.7V825.7M1663.58 811.1V821.6M1667.01 780.3V798.6M1670.44 759.3V778.2M1673.88 740.2V758.0M1677.31 717.1V726.9M1687.61 701.9V722.8M1694.48 700.9V717.2M1701.34 681.8V702.6M1704.78 667.9V684.0M1711.64 667.4V676.6M1725.38 688.1V693.8M1732.25 674.8V696.3M1735.68 637.0V657.1M1752.85 685.2V693.1M1759.71 682.5V697.5M1763.15 668.9V684.5M1776.88 700.0V713.1M1780.32 674.1V693.2M1787.18 687.2V696.7M1797.48 707.0V720.2M1814.65 727.5V741.2M1821.52 731.9V741.3" stroke="#ababab" stroke-width="4.1" fill="none"/>
<path d="M115.07 331.8V352.0M121.93 357.5V389.4M128.80 333.6V349.4M132.24 303.5V321.2M139.10 343.6V373.7M152.84 365.7V394.4M163.14 381.0V402.4M176.87 380.7V391.8M194.04 412.7V446.7M197.47 416.1V432.0M204.34 402.9V431.4M221.51 530.3V555.4M224.94 505.0V513.9M228.37 444.8V499.1M235.24 480.9V504.6M238.67 492.1V503.4M245.54 466.9V479.0M266.14 495.7V514.8M279.88 512.6V526.9M293.61 485.2V494.1M300.48 451.3V481.3M303.91 430.2V448.4M307.34 401.6V418.9M310.78 401.2V415.7M321.08 389.9V398.2M345.11 463.5V476.2M348.55 453.7V477.6M355.41 374.9V396.6M362.28 377.8V394.2M369.15 389.5V401.5M382.88 407.4V419.3M386.31 375.2V400.4M396.61 405.9V413.9M403.48 399.9V435.4M410.35 386.6V405.1M413.78 374.9V395.5M417.22 363.4V377.8M420.65 341.6V353.6M424.08 323.4V336.5M430.95 322.6V337.4M437.82 341.6V345.0M441.25 318.0V331.9M444.68 300.7V310.4M448.12 307.7V319.0M451.55 261.8V302.6M454.98 259.1V270.0M461.85 262.6V282.5M472.15 314.4V326.9M479.02 300.1V329.7M482.45 320.2V328.3M496.19 345.4V358.4M499.62 308.9V326.1M530.52 394.9V416.0M537.39 401.5V434.4M544.25 367.5V383.3M547.69 342.4V349.0M551.12 325.2V334.6M561.42 326.1V335.0M564.86 281.3V322.5M575.16 443.9V453.5M582.02 422.2V426.0M585.46 415.9V425.5M599.19 426.5V443.1M602.62 415.3V429.4M612.92 422.5V437.0M623.23 398.2V408.6M636.96 407.4V412.2M640.39 406.4V414.6M654.13 445.9V465.0M660.99 437.9V443.7M664.43 439.8V448.7M671.29 451.2V462.7M681.60 439.3V452.6M685.03 422.9V443.7M691.90 449.0V458.9M695.33 426.6V440.2M698.76 408.2V431.9M726.23 493.3V506.7M733.10 482.8V491.1M739.96 459.4V481.9M743.40 428.9V438.6M760.57 417.8V422.0M764.00 404.7V418.1M781.17 419.3V429.2M788.03 366.1V399.1M805.20 366.5V381.6M808.63 369.1V375.6M815.50 315.5V343.1M818.93 260.1V323.6M822.37 283.4V296.4M829.24 288.8V299.5M832.67 277.6V296.6M836.10 264.5V284.8M842.97 260.1V290.4M849.84 257.6V277.1M856.70 210.8V263.0M860.14 127.5V197.6M867.00 114.0V148.3M870.44 118.4V131.7M873.87 86.7V108.5M887.61 198.8V223.3M891.04 166.7V182.7M908.21 193.3V198.7M918.51 171.1V196.2M921.94 147.1V163.0M925.37 145.6V158.9M928.81 109.4V131.3M942.54 148.5V178.9M952.84 191.8V206.0M963.14 170.1V237.9M970.01 148.7V162.5M973.44 80.2V98.3M976.88 71.6V96.2M980.31 87.9V115.5M994.04 205.1V229.9M997.48 363.6V380.6M1011.21 387.7V397.6M1018.08 383.6V399.1M1031.81 392.0V406.1M1045.55 464.8V482.9M1062.71 478.1V495.8M1066.15 459.4V477.7M1079.88 454.7V471.5M1083.31 442.9V461.6M1107.35 506.4V516.4M1110.78 503.5V520.9M1121.08 538.3V578.2M1127.95 547.3V556.9M1141.68 543.6V562.7M1148.55 546.1V561.7M1151.98 505.9V514.5M1162.29 487.7V509.7M1165.72 475.8V493.4M1179.45 500.2V506.4M1186.32 468.5V491.4M1193.19 484.2V489.1M1210.35 531.6V542.7M1213.79 436.2V467.8M1230.96 464.6V482.2M1234.39 449.2V469.9M1254.99 477.1V485.3M1272.16 539.8V551.6M1275.59 536.0V550.2M1289.32 587.6V622.2M1292.76 547.7V565.5M1299.62 506.1V532.4M1306.49 468.7V484.5M1316.79 505.6V514.4M1333.96 543.7V567.7M1351.13 542.8V582.0M1361.43 556.5V562.5M1364.86 522.8V538.0M1371.73 520.4V534.3M1375.16 519.2V529.8M1382.03 501.7V507.2M1385.46 474.0V488.4M1392.33 455.4V459.0M1399.20 459.8V469.1M1409.50 460.4V479.6M1412.93 438.9V457.6M1426.66 499.5V514.7M1436.97 730.8V749.6M1440.40 685.9V717.1M1443.83 683.9V698.2M1447.27 679.2V692.4M1454.13 676.1V701.2M1467.87 685.9V704.5M1474.73 684.3V698.2M1478.17 672.1V684.2M1485.03 660.7V687.9M1495.33 642.3V656.9M1498.77 638.1V647.2M1502.20 608.3V624.1M1505.63 587.8V605.9M1512.50 589.9V607.4M1519.37 610.9V619.6M1526.24 606.2V619.6M1529.67 617.4V622.1M1533.10 611.2V616.3M1539.97 596.7V608.6M1553.70 640.0V644.0M1557.14 628.0V651.8M1560.57 608.7V625.5M1564.00 599.4V611.5M1570.87 593.7V600.8M1588.04 735.2V744.5M1601.77 743.2V757.3M1612.07 762.5V766.0M1615.51 754.1V763.1M1618.94 753.0V759.6M1622.37 747.0V752.0M1639.54 785.4V801.9M1646.41 788.8V801.6M1653.28 818.5V824.6M1660.14 819.6V824.8M1663.58 812.0V820.7M1667.01 781.2V797.7M1670.44 760.2V777.3M1673.88 741.1V757.1M1677.31 718.0V726.0M1687.61 702.8V721.9M1694.48 701.8V716.3M1701.34 682.7V701.7M1704.78 668.8V683.1M1711.64 668.3V675.7M1725.38 689.0V692.9M1732.25 675.7V695.4M1735.68 637.9V656.2M1752.85 686.1V692.2M1759.71 683.4V696.6M1763.15 669.8V683.6M1776.88 700.9V712.2M1780.32 675.0V692.3M1787.18 688.1V695.8M1797.48 707.9V719.3M1814.65 728.4V740.3M1821.52 732.8V740.4" stroke="#bfc1c1" stroke-width="2.1" fill="none"/>
<path d="M97.90 245.0V291.9M101.33 258.1V335.3M104.77 316.1V350.4M108.20 333.5V381.1M111.63 335.0V374.5M118.50 330.8V375.3M125.37 340.0V380.3M135.67 271.0V337.8M142.54 348.0V379.5M145.97 370.1V435.3M149.40 397.7V428.6M156.27 371.4V413.6M159.70 380.2V421.9M166.57 378.8V409.4M170.00 340.2V379.5M173.44 365.3V389.5M180.30 382.3V413.6M183.74 393.2V413.6M187.17 402.2V447.0M190.60 437.0V483.0M200.91 392.2V432.8M207.77 397.2V435.3M211.21 427.8V449.5M214.64 432.8V476.3M218.07 466.5V522.8M231.81 475.3V498.6M242.11 479.1V509.9M248.97 436.2V458.6M252.41 458.3V500.2M255.84 479.1V515.3M259.27 492.2V513.6M262.71 506.1V550.4M269.58 487.2V522.8M273.01 501.1V517.0M276.44 510.3V540.4M283.31 501.1V542.9M286.74 525.3V543.7M290.18 497.2V522.8M297.04 469.5V508.6M314.21 374.3V395.2M317.64 374.3V421.9M324.51 384.3V403.6M327.94 386.0V406.9M331.38 408.6V437.0M334.81 409.4V448.7M338.25 419.4V448.7M341.68 448.4V489.5M351.98 380.2V413.6M358.85 357.1V408.6M365.71 373.8V397.7M372.58 391.9V426.1M376.01 397.7V429.5M379.45 395.2V425.3M389.75 378.8V410.2M393.18 386.0V410.2M400.05 413.1V431.5M406.91 376.2V406.4M427.52 329.4V348.7M434.38 312.2V337.0M458.42 249.2V293.5M465.28 243.0V304.4M468.72 299.3V341.1M475.59 297.2V340.3M485.89 311.0V357.0M489.32 324.4V344.5M492.75 316.1V348.7M503.05 304.0V321.9M506.49 304.0V345.3M509.92 338.6V367.9M513.35 347.8V382.7M516.79 343.3V372.1M520.22 355.0V394.9M523.65 383.4V411.0M527.09 395.3V418.8M533.95 390.1V426.0M540.82 394.2V418.1M554.56 297.2V324.4M557.99 309.4V335.0M568.29 413.5V452.7M571.72 435.2V472.8M578.59 423.2V441.9M588.89 415.1V427.7M592.32 423.5V451.9M595.76 437.7V452.7M606.06 404.3V426.0M609.49 416.8V445.6M616.36 414.3V431.0M619.79 398.1V426.8M626.66 394.2V410.6M630.09 394.2V418.5M633.53 402.6V418.5M643.83 409.3V427.7M647.26 423.2V461.6M650.69 451.4V476.7M657.56 440.2V456.6M667.86 438.0V463.9M674.73 444.4V462.8M678.16 449.4V459.9M688.46 428.8V456.6M702.20 408.1V439.4M705.63 427.7V445.2M709.06 436.9V461.6M712.50 446.1V491.9M715.93 459.5V487.5M719.36 459.5V515.4M722.80 485.4V509.6M729.66 480.4V500.5M736.53 471.2V490.4M746.83 422.2V437.8M750.26 413.2V445.0M753.70 429.4V450.6M757.13 415.2V443.6M767.43 395.1V439.4M770.87 400.2V430.2M774.30 432.2V464.5M777.73 440.3V472.9M784.60 398.1V439.9M791.47 317.9V387.6M794.90 340.1V381.8M798.33 370.9V391.8M801.77 375.1V393.8M812.07 355.1V380.9M825.80 268.2V303.6M839.54 277.2V299.8M846.40 240.1V266.9M853.27 256.0V295.6M863.57 116.0V157.8M877.30 100.1V133.6M880.74 139.4V180.4M884.17 146.1V211.8M894.47 136.1V172.9M897.91 167.0V192.1M901.34 161.2V200.4M904.77 181.2V220.9M911.64 172.0V197.1M915.07 185.7V212.5M932.24 98.1V172.9M935.67 154.5V187.9M939.11 166.2V192.9M945.97 164.0V188.7M949.41 170.3V210.4M956.27 192.1V226.7M959.71 220.9V240.6M966.58 133.9V176.7M983.74 119.4V141.9M987.18 131.1V176.2M990.61 165.0V219.7M1000.91 358.0V417.7M1004.34 402.2V455.7M1007.78 411.0V427.7M1014.64 372.1V412.7M1021.51 379.3V402.7M1024.94 381.2V394.6M1028.38 382.6V415.5M1035.25 386.5V423.6M1038.68 424.4V454.5M1042.11 429.4V471.2M1048.98 448.3V482.3M1052.41 450.3V485.4M1055.85 478.6V496.9M1059.28 484.2V511.8M1069.58 448.3V478.4M1073.01 458.4V474.6M1076.45 461.2V486.7M1086.75 451.2V466.2M1090.18 455.0V479.4M1093.62 464.0V524.8M1097.05 485.4V511.0M1100.48 496.4V516.0M1103.92 497.1V523.5M1114.22 517.1V544.4M1117.65 525.5V565.3M1124.52 538.2V570.3M1131.38 526.8V556.9M1134.82 541.5V571.1M1138.25 546.1V580.7M1145.12 545.2V573.6M1155.42 489.7V518.5M1158.85 497.4V526.8M1169.15 469.1V497.4M1172.59 477.3V500.7M1176.02 480.2V508.8M1182.89 482.1V502.6M1189.75 464.0V492.5M1196.62 478.1V531.9M1200.05 519.3V541.9M1203.49 521.0V544.4M1206.92 508.4V551.1M1217.22 437.0V467.9M1220.65 423.3V474.6M1224.09 447.0V467.0M1227.52 461.2V505.9M1237.82 447.0V471.2M1241.26 459.0V505.9M1244.69 465.4V510.6M1248.12 463.4V509.3M1251.56 479.1V497.4M1258.42 447.8V477.1M1261.86 426.1V489.0M1265.29 479.4V500.7M1268.72 494.2V542.7M1279.02 529.3V551.9M1282.46 527.2V572.3M1285.89 561.1V613.8M1296.19 514.3V546.9M1303.06 445.0V482.7M1309.93 467.0V508.4M1313.36 488.2V533.5M1320.23 493.2V526.8M1323.66 521.0V545.2M1327.09 537.7V561.6M1330.53 528.2V561.4M1337.39 544.5V565.3M1340.83 549.5V587.5M1344.26 567.1V592.8M1347.69 574.1V602.6M1354.56 542.3V568.8M1357.99 546.2V572.4M1368.30 531.1V558.4M1378.60 492.2V525.6M1388.90 459.3V480.5M1395.76 464.3V488.5M1402.63 461.4V486.5M1406.06 458.4V473.8M1416.36 457.1V497.2M1419.80 482.2V506.6M1423.23 485.2V512.2M1430.10 696.2V757.7M1433.53 714.2V762.7M1450.70 666.1V698.4M1457.57 663.9V685.7M1461.00 680.3V694.5M1464.43 681.2V705.7M1471.30 662.8V691.7M1481.60 653.3V685.3M1488.47 658.3V670.3M1491.90 655.3V685.7M1509.07 592.1V617.6M1515.94 594.2V623.8M1522.80 600.9V620.2M1536.54 610.1V626.5M1543.40 593.4V613.5M1546.84 611.5V630.2M1550.27 629.3V654.4M1567.44 602.1V615.5M1574.31 596.4V626.5M1577.74 605.9V755.5M1581.17 718.3V746.0M1584.61 724.0V751.9M1591.47 727.1V757.2M1594.91 741.0V766.9M1598.34 757.7V773.6M1605.21 737.1V751.0M1608.64 742.1V768.9M1625.81 732.1V759.3M1629.24 757.9V784.9M1632.67 772.0V803.6M1636.11 782.2V792.8M1642.98 776.0V805.6M1649.84 768.2V837.9M1656.71 823.3V845.7M1680.74 696.1V718.7M1684.18 699.4V728.9M1691.04 696.1V720.7M1697.91 678.9V701.1M1708.21 666.0V684.4M1715.08 666.0V681.5M1718.51 666.0V684.9M1721.95 673.2V715.0M1728.81 683.2V698.6M1739.11 630.1V659.8M1742.55 629.2V678.2M1745.98 676.0V691.1M1749.41 670.5V695.3M1756.28 676.0V722.3M1766.58 668.2V700.3M1770.01 678.9V701.1M1773.45 692.7V712.3M1783.75 676.0V703.3M1790.62 677.2V694.4M1794.05 686.1V719.5M1800.92 710.3V739.4M1804.35 731.3V754.7M1807.78 726.3V742.7M1811.22 735.4V746.9M1818.08 732.5V748.4" stroke="#e20000" stroke-width="2.9" fill="none"/>
<path d="M97.90 249.0V276.5M101.33 267.1V307.0M104.77 328.7V348.9M108.20 350.9V376.9M111.63 343.9V368.3M118.50 333.2V363.0M125.37 342.2V370.6M135.67 292.2V332.9M142.54 353.8V372.2M145.97 381.7V428.3M149.40 406.4V417.9M156.27 380.5V409.2M159.70 382.5V411.4M166.57 385.4V407.9M170.00 347.2V369.4M173.44 371.0V384.1M180.30 386.3V405.7M183.74 394.2V407.5M187.17 405.6V433.8M190.60 440.0V469.4M200.91 401.6V421.0M207.77 407.8V430.7M211.21 430.7V446.9M214.64 436.3V462.3M218.07 486.5V510.7M231.81 477.4V494.7M242.11 489.4V505.7M248.97 437.6V457.7M252.41 460.4V485.0M255.84 489.6V504.9M259.27 500.0V508.3M262.71 510.9V536.0M269.58 499.0V514.4M273.01 505.9V515.1M276.44 518.4V529.7M283.31 503.2V533.6M286.74 529.9V538.7M290.18 501.5V520.3M297.04 479.8V505.7M314.21 377.7V391.2M317.64 379.3V416.9M324.51 386.4V399.7M327.94 387.1V403.6M331.38 415.7V427.2M334.81 418.6V441.2M338.25 425.5V443.6M341.68 456.8V479.3M351.98 388.4V411.9M358.85 365.8V394.4M365.71 375.1V391.0M372.58 400.2V422.4M376.01 400.1V422.4M379.45 399.5V414.8M389.75 384.4V399.0M393.18 388.3V404.5M400.05 418.2V427.9M406.91 385.5V401.7M427.52 333.6V345.0M434.38 316.6V334.8M458.42 254.8V290.7M465.28 252.3V299.0M468.72 306.6V336.8M475.59 313.2V336.3M485.89 321.8V347.0M489.32 331.2V337.8M492.75 327.6V347.3M503.05 306.9V319.5M506.49 309.8V340.9M509.92 345.5V359.8M513.35 359.2V372.0M516.79 346.9V361.7M520.22 364.3V390.5M523.65 388.4V406.2M527.09 402.0V412.0M533.95 392.1V420.8M540.82 400.9V409.8M554.56 303.1V322.3M557.99 318.4V332.7M568.29 420.2V448.8M571.72 449.5V469.7M578.59 429.8V440.8M588.89 417.8V425.4M592.32 426.4V446.1M595.76 440.2V450.1M606.06 405.8V420.2M609.49 425.8V441.0M616.36 416.7V429.6M619.79 408.0V424.4M626.66 397.8V407.3M630.09 402.7V410.5M633.53 405.1V414.6M643.83 413.3V424.1M647.26 432.8V456.9M650.69 453.1V474.6M657.56 441.2V454.8M667.86 439.6V459.0M674.73 447.6V458.6M678.16 451.6V458.6M688.46 436.1V448.3M702.20 412.7V432.7M705.63 432.3V442.4M709.06 444.4V459.9M712.50 454.7V485.9M715.93 461.4V485.4M719.36 463.3V511.9M722.80 491.7V500.9M729.66 485.1V495.2M736.53 474.4V483.9M746.83 425.3V435.1M750.26 420.7V438.5M753.70 436.5V444.7M757.13 417.3V433.2M767.43 404.7V429.7M770.87 401.8V427.1M774.30 440.7V456.8M777.73 450.9V464.5M784.60 410.2V431.9M791.47 340.9V364.2M794.90 344.8V373.9M798.33 372.5V384.1M801.77 380.9V389.5M812.07 359.1V375.4M825.80 273.9V291.3M839.54 282.3V296.6M846.40 246.8V260.9M853.27 262.0V289.1M863.57 122.6V150.5M877.30 102.0V124.1M880.74 152.0V171.9M884.17 149.3V191.8M894.47 141.7V161.7M897.91 169.7V185.8M901.34 163.7V188.2M904.77 188.4V215.2M911.64 179.5V194.1M915.07 194.5V208.9M932.24 111.8V162.7M935.67 165.6V176.8M939.11 167.4V191.0M945.97 166.6V185.1M949.41 174.1V199.5M956.27 193.6V221.2M959.71 222.6V234.0M966.58 138.6V169.5M983.74 124.5V135.9M987.18 146.9V162.5M990.61 173.7V207.6M1000.91 363.8V396.7M1004.34 409.6V445.7M1007.78 416.9V424.2M1014.64 378.3V407.9M1021.51 386.8V398.6M1024.94 385.0V389.9M1028.38 387.4V406.9M1035.25 388.6V414.9M1038.68 429.1V444.3M1042.11 441.9V459.9M1048.98 458.1V477.5M1052.41 460.4V477.4M1055.85 483.3V494.3M1059.28 494.5V510.1M1069.58 457.6V468.1M1073.01 462.2V472.6M1076.45 467.2V480.8M1086.75 452.8V463.9M1090.18 459.9V472.4M1093.62 480.2V515.5M1097.05 487.2V505.8M1100.48 503.2V512.4M1103.92 506.7V519.5M1114.22 526.4V537.8M1117.65 527.6V558.1M1124.52 540.0V568.9M1131.38 536.1V547.4M1134.82 546.2V566.4M1138.25 552.1V574.1M1145.12 548.0V572.2M1155.42 498.4V508.3M1158.85 501.5V518.7M1169.15 479.3V488.3M1172.59 485.1V496.9M1176.02 490.6V498.0M1182.89 485.0V498.1M1189.75 473.1V488.8M1196.62 491.1V520.0M1200.05 522.5V533.6M1203.49 529.1V538.7M1206.92 523.3V546.4M1217.22 439.0V457.9M1220.65 436.6V456.6M1224.09 450.9V461.6M1227.52 471.4V497.2M1237.82 452.2V466.9M1241.26 463.6V491.1M1244.69 478.5V500.4M1248.12 480.6V493.3M1251.56 485.7V495.2M1258.42 452.7V469.7M1261.86 435.8V482.1M1265.29 481.8V493.9M1268.72 498.9V524.6M1279.02 533.3V548.7M1282.46 541.8V565.6M1285.89 576.3V607.7M1296.19 520.7V537.9M1303.06 454.7V474.0M1309.93 474.2V496.9M1313.36 496.2V519.0M1320.23 504.9V518.5M1323.66 528.8V542.3M1327.09 543.3V557.4M1330.53 530.6V554.0M1337.39 547.3V563.2M1340.83 562.8V585.5M1344.26 576.7V591.2M1347.69 581.0V599.8M1354.56 548.3V562.5M1357.99 553.0V571.2M1368.30 535.5V554.5M1378.60 495.5V519.4M1388.90 463.8V475.7M1395.76 468.2V481.8M1402.63 470.0V482.6M1406.06 460.6V470.1M1416.36 459.2V494.1M1419.80 490.8V499.5M1423.23 490.1V507.0M1430.10 711.7V752.5M1433.53 727.4V750.0M1450.70 669.6V693.7M1457.57 671.7V680.6M1461.00 683.7V692.4M1464.43 687.9V697.5M1471.30 668.5V687.0M1481.60 658.9V678.5M1488.47 661.2V665.9M1491.90 662.4V675.3M1509.07 594.5V613.5M1515.94 603.8V616.0M1522.80 602.5V614.6M1536.54 612.9V621.1M1543.40 596.1V606.0M1546.84 616.4V625.5M1550.27 631.6V651.9M1567.44 602.9V613.9M1574.31 600.2V618.9M1577.74 633.6V735.4M1581.17 719.9V736.7M1584.61 726.9V747.5M1591.47 728.5V746.8M1594.91 746.2V761.6M1598.34 759.4V770.1M1605.21 739.1V750.1M1608.64 743.6V759.8M1625.81 737.3V755.3M1629.24 765.5V779.4M1632.67 782.6V794.2M1636.11 785.3V788.8M1642.98 777.6V794.5M1649.84 781.4V833.8M1656.71 831.6V840.1M1680.74 698.7V713.2M1684.18 708.0V720.5M1691.04 704.8V715.0M1697.91 682.6V698.3M1708.21 666.9V679.0M1715.08 668.9V678.6M1718.51 670.0V679.5M1721.95 686.9V708.1M1728.81 685.2V697.7M1739.11 634.2V652.0M1742.55 633.2V674.4M1745.98 678.0V690.2M1749.41 677.7V690.1M1756.28 686.5V705.1M1766.58 669.6V691.8M1770.01 686.7V694.2M1773.45 699.9V705.3M1783.75 685.8V694.0M1790.62 682.8V692.2M1794.05 689.5V710.2M1800.92 719.9V734.7M1804.35 736.8V752.6M1807.78 728.5V737.9M1811.22 737.9V745.4M1818.08 738.1V742.7" stroke="#e20000" stroke-width="4.1" fill="none"/>
<path d="M97.90 249.9V275.6M101.33 268.0V306.1M104.77 329.6V348.0M108.20 351.8V376.0M111.63 344.8V367.4M118.50 334.1V362.1M125.37 343.1V369.7M135.67 293.1V332.0M142.54 354.7V371.3M145.97 382.6V427.4M149.40 407.3V417.0M156.27 381.4V408.3M159.70 383.4V410.5M166.57 386.3V407.0M170.00 348.1V368.5M173.44 371.9V383.2M180.30 387.2V404.8M183.74 395.1V406.6M187.17 406.5V432.9M190.60 440.9V468.5M200.91 402.5V420.1M207.77 408.7V429.8M211.21 431.6V446.0M214.64 437.2V461.4M218.07 487.4V509.8M231.81 478.3V493.8M242.11 490.3V504.8M248.97 438.5V456.8M252.41 461.3V484.1M255.84 490.5V504.0M259.27 500.9V507.4M262.71 511.8V535.1M269.58 499.9V513.5M273.01 506.8V514.2M276.44 519.3V528.8M283.31 504.1V532.7M286.74 530.8V537.8M290.18 502.4V519.4M297.04 480.7V504.8M314.21 378.6V390.3M317.64 380.2V416.0M324.51 387.3V398.8M327.94 388.0V402.7M331.38 416.6V426.3M334.81 419.5V440.3M338.25 426.4V442.7M341.68 457.7V478.4M351.98 389.3V411.0M358.85 366.7V393.5M365.71 376.0V390.1M372.58 401.1V421.5M376.01 401.0V421.5M379.45 400.4V413.9M389.75 385.3V398.1M393.18 389.2V403.6M400.05 419.1V427.0M406.91 386.4V400.8M427.52 334.5V344.1M434.38 317.5V333.9M458.42 255.7V289.8M465.28 253.2V298.1M468.72 307.5V335.9M475.59 314.1V335.4M485.89 322.7V346.1M489.32 332.1V336.9M492.75 328.5V346.4M503.05 307.8V318.6M506.49 310.7V340.0M509.92 346.4V358.9M513.35 360.1V371.1M516.79 347.8V360.8M520.22 365.2V389.6M523.65 389.3V405.3M527.09 402.9V411.1M533.95 393.0V419.9M540.82 401.8V408.9M554.56 304.0V321.4M557.99 319.3V331.8M568.29 421.1V447.9M571.72 450.4V468.8M578.59 430.7V439.9M588.89 418.7V424.5M592.32 427.3V445.2M595.76 441.1V449.2M606.06 406.7V419.3M609.49 426.7V440.1M616.36 417.6V428.7M619.79 408.9V423.5M626.66 398.7V406.4M630.09 403.6V409.6M633.53 406.0V413.7M643.83 414.2V423.2M647.26 433.7V456.0M650.69 454.0V473.7M657.56 442.1V453.9M667.86 440.5V458.1M674.73 448.5V457.7M678.16 452.5V457.7M688.46 437.0V447.4M702.20 413.6V431.8M705.63 433.2V441.5M709.06 445.3V459.0M712.50 455.6V485.0M715.93 462.3V484.5M719.36 464.2V511.0M722.80 492.6V500.0M729.66 486.0V494.3M736.53 475.3V483.0M746.83 426.2V434.2M750.26 421.6V437.6M753.70 437.4V443.8M757.13 418.2V432.3M767.43 405.6V428.8M770.87 402.7V426.2M774.30 441.6V455.9M777.73 451.8V463.6M784.60 411.1V431.0M791.47 341.8V363.3M794.90 345.7V373.0M798.33 373.4V383.2M801.77 381.8V388.6M812.07 360.0V374.5M825.80 274.8V290.4M839.54 283.2V295.7M846.40 247.7V260.0M853.27 262.9V288.2M863.57 123.5V149.6M877.30 102.9V123.2M880.74 152.9V171.0M884.17 150.2V190.9M894.47 142.6V160.8M897.91 170.6V184.9M901.34 164.6V187.3M904.77 189.3V214.3M911.64 180.4V193.2M915.07 195.4V208.0M932.24 112.7V161.8M935.67 166.5V175.9M939.11 168.3V190.1M945.97 167.5V184.2M949.41 175.0V198.6M956.27 194.5V220.3M959.71 223.5V233.1M966.58 139.5V168.6M983.74 125.4V135.0M987.18 147.8V161.6M990.61 174.6V206.7M1000.91 364.7V395.8M1004.34 410.5V444.8M1007.78 417.8V423.3M1014.64 379.2V407.0M1021.51 387.7V397.7M1024.94 385.9V389.0M1028.38 388.3V406.0M1035.25 389.5V414.0M1038.68 430.0V443.4M1042.11 442.8V459.0M1048.98 459.0V476.6M1052.41 461.3V476.5M1055.85 484.2V493.4M1059.28 495.4V509.2M1069.58 458.5V467.2M1073.01 463.1V471.7M1076.45 468.1V479.9M1086.75 453.7V463.0M1090.18 460.8V471.5M1093.62 481.1V514.6M1097.05 488.1V504.9M1100.48 504.1V511.5M1103.92 507.6V518.6M1114.22 527.3V536.9M1117.65 528.5V557.2M1124.52 540.9V568.0M1131.38 537.0V546.5M1134.82 547.1V565.5M1138.25 553.0V573.2M1145.12 548.9V571.3M1155.42 499.3V507.4M1158.85 502.4V517.8M1169.15 480.2V487.4M1172.59 486.0V496.0M1176.02 491.5V497.1M1182.89 485.9V497.2M1189.75 474.0V487.9M1196.62 492.0V519.1M1200.05 523.4V532.7M1203.49 530.0V537.8M1206.92 524.2V545.5M1217.22 439.9V457.0M1220.65 437.5V455.7M1224.09 451.8V460.7M1227.52 472.3V496.3M1237.82 453.1V466.0M1241.26 464.5V490.2M1244.69 479.4V499.5M1248.12 481.5V492.4M1251.56 486.6V494.3M1258.42 453.6V468.8M1261.86 436.7V481.2M1265.29 482.7V493.0M1268.72 499.8V523.7M1279.02 534.2V547.8M1282.46 542.7V564.7M1285.89 577.2V606.8M1296.19 521.6V537.0M1303.06 455.6V473.1M1309.93 475.1V496.0M1313.36 497.1V518.1M1320.23 505.8V517.6M1323.66 529.7V541.4M1327.09 544.2V556.5M1330.53 531.5V553.1M1337.39 548.2V562.3M1340.83 563.7V584.6M1344.26 577.6V590.3M1347.69 581.9V598.9M1354.56 549.2V561.6M1357.99 553.9V570.3M1368.30 536.4V553.6M1378.60 496.4V518.5M1388.90 464.7V474.8M1395.76 469.1V480.9M1402.63 470.9V481.7M1406.06 461.5V469.2M1416.36 460.1V493.2M1419.80 491.7V498.6M1423.23 491.0V506.1M1430.10 712.6V751.6M1433.53 728.3V749.1M1450.70 670.5V692.8M1457.57 672.6V679.7M1461.00 684.6V691.5M1464.43 688.8V696.6M1471.30 669.4V686.1M1481.60 659.8V677.6M1488.47 662.1V665.0M1491.90 663.3V674.4M1509.07 595.4V612.6M1515.94 604.7V615.1M1522.80 603.4V613.7M1536.54 613.8V620.2M1543.40 597.0V605.1M1546.84 617.3V624.6M1550.27 632.5V651.0M1567.44 603.8V613.0M1574.31 601.1V618.0M1577.74 634.5V734.5M1581.17 720.8V735.8M1584.61 727.8V746.6M1591.47 729.4V745.9M1594.91 747.1V760.7M1598.34 760.3V769.2M1605.21 740.0V749.2M1608.64 744.5V758.9M1625.81 738.2V754.4M1629.24 766.4V778.5M1632.67 783.5V793.3M1636.11 786.2V787.9M1642.98 778.5V793.6M1649.84 782.3V832.9M1656.71 832.5V839.2M1680.74 699.6V712.3M1684.18 708.9V719.6M1691.04 705.7V714.1M1697.91 683.5V697.4M1708.21 667.8V678.1M1715.08 669.8V677.7M1718.51 670.9V678.6M1721.95 687.8V707.2M1728.81 686.1V696.8M1739.11 635.1V651.1M1742.55 634.1V673.5M1745.98 678.9V689.3M1749.41 678.6V689.2M1756.28 687.4V704.2M1766.58 670.5V690.9M1770.01 687.6V693.3M1773.45 700.8V704.4M1783.75 686.7V693.1M1790.62 683.7V691.3M1794.05 690.4V709.3M1800.92 720.8V733.8M1804.35 737.7V751.7M1807.78 729.4V737.0M1811.22 738.8V744.5M1818.08 739.0V741.8" stroke="#ff0000" stroke-width="2.3" fill="none"/>
<path d="M314.5 342.8L317.8 348.3L314.5 353.8L311.2 348.3Z" fill="#dc143c" stroke="#7a1a2a" stroke-width="0.6"/>
<path d="M242.5 450.0L245.8 455.5L242.5 461.0L239.2 455.5Z" fill="#dc143c" stroke="#7a1a2a" stroke-width="0.6"/>
<path d="M1223.3 416.9L1226.6 422.4L1223.3 427.9L1220.0 422.4Z" fill="#dc143c" stroke="#7a1a2a" stroke-width="0.6"/>
<path d="M1144.5 516.5L1147.8 522L1144.5 527.5L1141.2 522Z" fill="#dc143c" stroke="#7a1a2a" stroke-width="0.6"/>
</g>
<rect x="96.5" y="20.5" width="1728" height="923" fill="none" stroke="#000" stroke-width="1" shape-rendering="crispEdges"/>
<path d="M97 884.5h3.5M97 824.5h3.5M97 764.5h3.5M97 705.5h3.5M97 645.5h3.5M97 585.5h3.5M97 526.5h3.5M97 466.5h3.5M97 406.5h3.5M97 347.5h3.5M97 287.5h3.5M97 227.5h3.5M97 168.5h3.5M97 108.5h3.5M97 49.5h3.5" stroke="#111" stroke-width="0.8"/>
<path d="M1824 112.4h-3.8M1824 204.7h-3.8M1824 297.0h-3.8M1824 389.3h-3.8M1824 481.6h-3.8M1824 573.9h-3.8M1824 666.2h-3.8M1824 758.5h-3.8M1824 850.8h-3.8" stroke="#222" stroke-width="0.7"/>
<g opacity="0.999">
<text x="71.9" y="947.2" font-size="13.4" text-anchor="start" fill="#000" textLength="19.5" lengthAdjust="spacingAndGlyphs">0M</text>
<text x="63.800000000000004" y="888.2" font-size="13.4" text-anchor="start" fill="#000" textLength="27.6" lengthAdjust="spacingAndGlyphs">40M</text>
<text x="63.800000000000004" y="828.2" font-size="13.4" text-anchor="start" fill="#000" textLength="27.6" lengthAdjust="spacingAndGlyphs">80M</text>
<text x="55.60000000000001" y="768.2" font-size="13.4" text-anchor="start" fill="#000" textLength="35.8" lengthAdjust="spacingAndGlyphs">120M</text>
<text x="55.60000000000001" y="709.2" font-size="13.4" text-anchor="start" fill="#000" textLength="35.8" lengthAdjust="spacingAndGlyphs">160M</text>
<text x="55.60000000000001" y="649.2" font-size="13.4" text-anchor="start" fill="#000" textLength="35.8" lengthAdjust="spacingAndGlyphs">200M</text>
<text x="55.60000000000001" y="589.2" font-size="13.4" text-anchor="start" fill="#000" textLength="35.8" lengthAdjust="spacingAndGlyphs">240M</text>
<text x="1828.2" y="116.2" font-size="13.4" text-anchor="start" fill="#000" textLength="28.7" lengthAdjust="spacingAndGlyphs">42.5</text>
<text x="1828.2" y="208.5" font-size="13.4" text-anchor="start" fill="#000" textLength="28.7" lengthAdjust="spacingAndGlyphs">40.0</text>
<text x="1828.2" y="300.8" font-size="13.4" text-anchor="start" fill="#000" textLength="28.7" lengthAdjust="spacingAndGlyphs">37.5</text>
<text x="1828.2" y="393.1" font-size="13.4" text-anchor="start" fill="#000" textLength="28.7" lengthAdjust="spacingAndGlyphs">35.0</text>
<text x="1828.2" y="485.4" font-size="13.4" text-anchor="start" fill="#000" textLength="28.7" lengthAdjust="spacingAndGlyphs">32.5</text>
<text x="1828.2" y="577.7" font-size="13.4" text-anchor="start" fill="#000" textLength="28.7" lengthAdjust="spacingAndGlyphs">30.0</text>
<text x="1828.2" y="670.0" font-size="13.4" text-anchor="start" fill="#000" textLength="28.7" lengthAdjust="spacingAndGlyphs">27.5</text>
<text x="1828.2" y="762.3" font-size="13.4" text-anchor="start" fill="#000" textLength="28.7" lengthAdjust="spacingAndGlyphs">25.0</text>
<text x="1828.2" y="854.6" font-size="13.4" text-anchor="start" fill="#000" textLength="28.7" lengthAdjust="spacingAndGlyphs">22.5</text>
<text x="158.8" y="958.2" font-size="13.4" text-anchor="start" fill="#000" textLength="14.6" lengthAdjust="spacingAndGlyphs">01</text>
<text x="227.4" y="958.2" font-size="13.4" text-anchor="start" fill="#000" textLength="14.6" lengthAdjust="spacingAndGlyphs">02</text>
<text x="296.1" y="958.2" font-size="13.4" text-anchor="start" fill="#000" textLength="14.6" lengthAdjust="spacingAndGlyphs">31</text>
<text x="364.8" y="958.2" font-size="13.4" text-anchor="start" fill="#000" textLength="14.6" lengthAdjust="spacingAndGlyphs">28</text>
<text x="502.1" y="958.2" font-size="13.4" text-anchor="start" fill="#000" textLength="14.6" lengthAdjust="spacingAndGlyphs">24</text>
<text x="570.8" y="958.2" font-size="13.4" text-anchor="start" fill="#000" textLength="14.6" lengthAdjust="spacingAndGlyphs">25</text>
<text x="639.4" y="958.2" font-size="13.4" text-anchor="start" fill="#000" textLength="14.6" lengthAdjust="spacingAndGlyphs">22</text>
<text x="708.1" y="958.2" font-size="13.4" text-anchor="start" fill="#000" textLength="14.6" lengthAdjust="spacingAndGlyphs">20</text>
<text x="845.5" y="958.2" font-size="13.4" text-anchor="start" fill="#000" textLength="14.6" lengthAdjust="spacingAndGlyphs">15</text>
<text x="914.1" y="958.2" font-size="13.4" text-anchor="start" fill="#000" textLength="14.6" lengthAdjust="spacingAndGlyphs">14</text>
<text x="982.8" y="958.2" font-size="13.4" text-anchor="start" fill="#000" textLength="14.6" lengthAdjust="spacingAndGlyphs">13</text>
<text x="1051.5" y="958.2" font-size="13.4" text-anchor="start" fill="#000" textLength="14.6" lengthAdjust="spacingAndGlyphs">13</text>
<text x="1188.8" y="958.2" font-size="13.4" text-anchor="start" fill="#000" textLength="14.6" lengthAdjust="spacingAndGlyphs">11</text>
<text x="1257.5" y="958.2" font-size="13.4" text-anchor="start" fill="#000" textLength="14.6" lengthAdjust="spacingAndGlyphs">10</text>
<text x="1326.1" y="958.2" font-size="13.4" text-anchor="start" fill="#000" textLength="14.6" lengthAdjust="spacingAndGlyphs">08</text>
<text x="1394.8" y="958.2" font-size="13.4" text-anchor="start" fill="#000" textLength="14.6" lengthAdjust="spacingAndGlyphs">07</text>
<text x="1532.2" y="958.2" font-size="13.4" text-anchor="start" fill="#000" textLength="14.6" lengthAdjust="spacingAndGlyphs">01</text>
<text x="1600.8" y="958.2" font-size="13.4" text-anchor="start" fill="#000" textLength="14.6" lengthAdjust="spacingAndGlyphs">02</text>
<text x="1669.5" y="958.2" font-size="13.4" text-anchor="start" fill="#000" textLength="14.6" lengthAdjust="spacingAndGlyphs">30</text>
<text x="1738.2" y="958.2" font-size="13.4" text-anchor="start" fill="#000" textLength="14.6" lengthAdjust="spacingAndGlyphs">28</text>
<text x="133" y="36.8" font-size="10.9" text-anchor="start" fill="#000" textLength="274.5" lengthAdjust="spacingAndGlyphs">yhoo-1996-2015 (1 Day) O:25.42 H:26 L:25.33 C:25.54</text>
<text x="133" y="51.8" font-size="10.9" text-anchor="start" fill="#000" textLength="36.5" lengthAdjust="spacingAndGlyphs">Volume</text>
<text x="133" y="66.9" font-size="10.9" text-anchor="start" fill="#000" textLength="66.5" lengthAdjust="spacingAndGlyphs">CDLDOJI 0.00</text>
<text x="134" y="83.0" font-size="10.9" text-anchor="start" fill="#000" textLength="94" lengthAdjust="spacingAndGlyphs">TA_SMA (25) 26.48</text>
<text x="133" y="97.5" font-size="10.9" text-anchor="start" fill="#000" textLength="77" lengthAdjust="spacingAndGlyphs">SMA (25) 26.48</text>
<path d="M105 33.3H126" stroke="#ababab" stroke-width="2.2"/>
<rect x="106.2" y="30.3" width="3.8" height="7.2" fill="#ababab"/><rect x="105" y="30.3" width="6" height="3.6" fill="#ababab"/>
<rect x="120.2" y="30.3" width="3.8" height="7.2" fill="#ababab"/><rect x="118.4" y="30.3" width="7.4" height="3.6" fill="#ababab"/>
<rect x="112" y="33" width="6.8" height="5" fill="#f00"/><rect x="113.2" y="30" width="3.8" height="5" fill="#f00"/>
<rect x="105.3" y="47.2" width="20.4" height="5.3" fill="#dcdcdc" stroke="#a3a3a3" stroke-width="0.7"/>
<rect x="112.3" y="45.6" width="6.4" height="6.9" fill="#ecb6c1" stroke="#c9506a" stroke-width="0.8"/>
<path d="M115.3 57.5L118.7 63.2L115.3 69L111.9 63.2Z" fill="#dc143c" stroke="#7a1a2a" stroke-width="0.6"/>
<path d="M105 78.6H126" stroke="#0000ff" stroke-width="1.1"/>
<path d="M105 94.3H126" stroke="#008000" stroke-width="1.1"/>
<path d="M1822.4 696.6H1854.6V711.2H1822.4L1820.8 703.9Z" fill="#fff" stroke="#1430d0" stroke-width="1.4" stroke-linejoin="round"/>
<text x="1825.6" y="707.6" font-size="10.9" text-anchor="start" fill="#000" textLength="26.8" lengthAdjust="spacingAndGlyphs">26.48</text>
<path d="M1822.4 731.8H1854.6V745.5H1822.4L1820.8 738.6Z" fill="#fff" stroke="#000" stroke-width="1.3" stroke-linejoin="round"/>
<text x="1825.6" y="742.4" font-size="10.9" text-anchor="start" fill="#000" textLength="26.8" lengthAdjust="spacingAndGlyphs">25.54</text>
</g>
</svg></body></html>
